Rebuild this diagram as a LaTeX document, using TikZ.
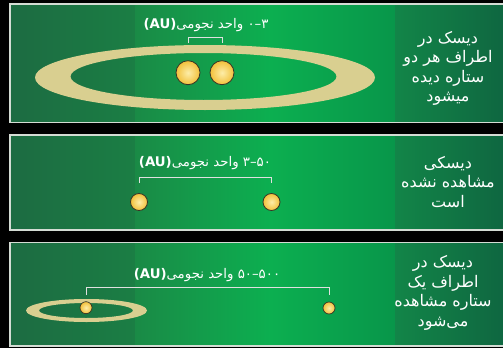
\documentclass[tikz,border=0pt]{standalone}
\usepackage{fontspec}
\setmainfont{DejaVu Sans}
\newfontfamily\fa[Script=Arabic]{DejaVu Sans}
\TeXXeTstate=1
\usetikzlibrary{calc}
\definecolor{bgA}{HTML}{1C6B42}
\definecolor{bgB}{HTML}{1B7E44}
\definecolor{bgC}{HTML}{1A8A46}
\definecolor{bgD}{HTML}{0CAF50}
\definecolor{bgE}{HTML}{08964A}
\definecolor{bgF}{HTML}{128548}
\definecolor{bgG}{HTML}{0F6540}
\definecolor{ringcol}{HTML}{D9CF90}
\definecolor{framecol}{HTML}{D4DCD4}
\definecolor{starin}{HTML}{FDEDA8}
\definecolor{starout}{HTML}{F2C03A}
\definecolor{starline}{HTML}{3A3526}
\tikzset{
  panelframe/.style={draw=framecol, line width=1.2pt},
  ring/.style={fill=ringcol, even odd rule},
  starbig/.style={circle, inner sep=0pt, minimum size=24pt, draw=starline, line width=0.8pt, inner color=starin, outer color=starout},
  starmid/.style={circle, inner sep=0pt, minimum size=17pt, draw=starline, line width=0.8pt, inner color=starin, outer color=starout},
  starsmall/.style={circle, inner sep=0pt, minimum size=12pt, draw=starline, line width=0.7pt, inner color=starin, outer color=starout},
  bracket/.style={draw=white!88!black, line width=1pt},
  aulabel/.style={text=white, inner sep=0pt, font=\fa\fontsize{13.3}{15}\selectfont},
  sidetext/.style={text=white, align=center, inner sep=0pt, font=\fa\fontsize{16}{19.5}\selectfont},
}
\begin{document}
\begin{tikzpicture}[x=1pt,y=-1pt]
\useasboundingbox (0,0) rectangle (503,348);
\fill[black] (0,0) rectangle (503,348);
% panel backgrounds
\foreach \ya/\yb in {4/122.5, 135/230, 242.3/346}{
  \fill[left color=bgA, right color=bgB] (10,\ya) rectangle (135,\yb);
  \fill[left color=bgC, right color=bgD] (135,\ya) rectangle (270,\yb);
  \fill[left color=bgD, right color=bgE] (270,\ya) rectangle (395,\yb);
  \fill[left color=bgF, right color=bgG] (395,\ya) rectangle (510,\yb);
  \draw[panelframe] (10,\ya) rectangle (512,\yb);
}
% ---------- panel 1 ----------
\fill[ring] (205,77.5) ellipse (170 and 32.5) (203.5,76.5) ellipse (133 and 23.5);
\node[starbig] (s1a) at (188,72.7) {};
\node[starbig] (s1b) at (222,72.7) {};
\coordinate (b1) at (0,43);
\draw[bracket] (s1a |- b1) -- ++(0,-6) -| (s1b |- b1);
\node[aulabel] (l1) at (206,25) {\beginR\beginL ۳–۰\endL{} واحد نجومی\beginL{\normalfont\bfseries(AU)}\endL\endR};
\node[sidetext] (t1) at (448,68.5) {\beginR دیسک در\endR\\\beginR اطراف هر دو\endR\\\beginR ستاره دیده\endR\\\beginR میشود\endR};
% ---------- panel 2 ----------
\node[starmid] (s2a) at (139,202) {};
\node[starmid] (s2b) at (271.5,202) {};
\coordinate (b2) at (0,183);
\draw[bracket] (s2a |- b2) -- ++(0,-6) -| (s2b |- b2);
\node[aulabel] (l2) at (205,163) {\beginR\beginL ۵۰–۳\endL{} واحد نجومی\beginL{\normalfont\bfseries(AU)}\endL\endR};
\node[sidetext] (t2) at (448,182) {\beginR دیسکی\endR\\\beginR مشاهده نشده\endR\\\beginR است\endR};
% ---------- panel 3 ----------
\fill[ring] (86.5,310.5) ellipse (60.5 and 11.5) (86,310.5) ellipse (47 and 7.5);
\node[starsmall] (s3a) at (86,307.7) {};
\node[starsmall] (s3b) at (329,308) {};
\coordinate (b3) at (0,295);
\draw[bracket] (s3a |- b3) -- ++(0,-8) -| (s3b |- b3);
\node[aulabel] (l3) at (207,275) {\beginR\beginL ۵۰۰–۵۰\endL{} واحد نجومی\beginL{\normalfont\bfseries(AU)}\endL\endR};
\node[sidetext] (t3) at (443,293) {\beginR دیسک در\endR\\\beginR اطراف یک\endR\\\beginR ستاره مشاهده\endR\\\beginR می‌شود\endR};
\end{tikzpicture}
\end{document}
